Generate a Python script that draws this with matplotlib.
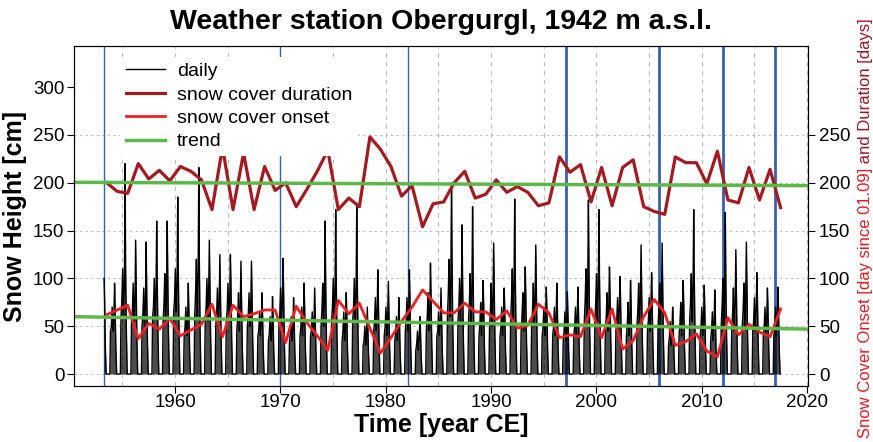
import numpy as np
import matplotlib.pyplot as plt
from matplotlib.lines import Line2D

plt.rcParams['font.family'] = ['Liberation Sans', 'DejaVu Sans']

# season years (spring of each winter)
years = np.arange(1953, 2018)

# snow cover duration [days]
duration = [200, 191, 189, 220, 204, 213, 202, 217, 212, 203,
            172, 237, 172, 231, 172, 217, 192, 200, 175, 193,
            212, 234, 172, 184, 175, 248, 235, 217, 186, 197,
            154, 178, 180, 200, 212, 184, 188, 203, 190, 196,
            190, 176, 179, 227, 211, 219, 180, 216, 176, 216,
            224, 175, 170, 167, 227, 221, 221, 199, 233, 182,
            179, 216, 182, 214, 174]

# snow cover onset [day since 01.09]
onset = [62, 67, 72, 37, 53, 47, 58, 40, 46, 52,
         73, 39, 72, 60, 63, 67, 67, 33, 71, 54,
         40, 25, 77, 63, 74, 48, 22, 38, 55, 70,
         88, 76, 64, 64, 74, 65, 65, 57, 66, 48,
         51, 73, 64, 38, 41, 39, 68, 38, 68, 26,
         35, 60, 78, 64, 30, 34, 42, 24, 18, 59,
         41, 52, 44, 39, 68]

# daily snow height, per winter: early level, mid-winter level, peak, late level [cm]
snow_early = [0, 45, 60, 55, 50, 60, 55, 65, 40, 60,
              55, 50, 55, 45, 50, 40, 35, 50, 35, 40,
              40, 50, 55, 35, 55, 30, 45, 40, 35, 45,
              25, 45, 40, 60, 55, 55, 40, 50, 40, 55,
              45, 50, 40, 40, 35, 40, 55, 55, 45, 45,
              40, 50, 45, 50, 30, 40, 55, 40, 35, 50,
              45, 50, 45, 40, 40]
snow_mid = [80, 70, 110, 95, 90, 100, 105, 110, 70, 120,
            100, 90, 95, 85, 85, 65, 60, 90, 60, 70,
            65, 95, 100, 65, 100, 50, 80, 70, 60, 80,
            45, 85, 65, 120, 100, 105, 75, 95, 70, 110,
            85, 95, 70, 70, 65, 70, 110, 105, 85, 80,
            75, 95, 80, 95, 55, 75, 105, 70, 65, 100,
            90, 95, 80, 70, 70]
snow_peak = [100, 95, 220, 140, 138, 160, 160, 185, 95, 216,
             140, 125, 125, 118, 118, 85, 81, 121, 80, 95,
             90, 160, 172, 85, 177, 70, 109, 97, 80, 109,
             60, 116, 90, 200, 156, 175, 98, 137, 90, 183,
             112, 135, 91, 95, 86, 91, 182, 172, 112, 102,
             98, 135, 106, 137, 70, 98, 172, 93, 88, 169,
             130, 138, 106, 90, 91]
snow_late = [60, 55, 90, 70, 70, 80, 80, 90, 55, 95,
             80, 70, 75, 65, 70, 50, 45, 70, 45, 55,
             50, 75, 80, 50, 80, 40, 60, 55, 45, 60,
             35, 65, 50, 95, 80, 85, 60, 75, 55, 90,
             70, 75, 55, 55, 50, 55, 90, 85, 70, 65,
             60, 75, 65, 75, 45, 60, 85, 55, 50, 80,
             70, 75, 65, 55, 55]

record_start = 1953.25

# trend lines (start / end value)
trend_x = [1950.4, 2020.1]
trend_duration = [200.5, 197.0]
trend_onset = [60.0, 47.0]

# station changes
change_years = [1953.26, 1970.0, 1982.1, 1997.1, 2006.0, 2012.0, 2017.0]
change_widths = [1.0, 1.0, 1.0, 2.0, 2.0, 2.0, 2.0]

# build daily trace from winter knots
knot_off = [-0.2, -0.14, -0.06, 0.02, 0.1, 0.18, 0.25, 0.3, 0.37, 0.45]
tx, ty = [], []
for y, e, md, pk, lt in zip(years, snow_early, snow_mid, snow_peak, snow_late):
    vals = [0, e, md * 0.7, md, e, lt, pk, md, lt * 0.5, 0]
    for o, v in zip(knot_off, vals):
        t = y + o
        if t >= record_start:
            tx.append(t)
            ty.append(v)
tx = np.array(tx)
ty = np.array(ty)

fig = plt.figure(figsize=(8.73, 4.42), dpi=100)
ax = fig.add_axes([0.0848, 0.1267, 0.8407, 0.7692])

xlim = (1950.4, 2020.1)
ylim = (-12.5, 343)

for gx in range(1955, 2021, 5):
    ax.axvline(gx, color='#bbbbbb', ls=(0, (4, 4)), lw=0.8, zorder=0)
for gy in range(0, 251, 50):
    ax.axhline(gy, color='#bbbbbb', ls=(0, (2, 3)), lw=0.8, zorder=0)

for cy, cw in zip(change_years, change_widths):
    ax.axvline(cy, color='#3a5fb0', lw=cw, zorder=1)

ax.fill_between(tx, 0, ty, color='black', alpha=0.7, lw=0, zorder=2)
ax.plot(tx, ty, color='black', lw=1.0, zorder=2)
ax.plot(years + 0.5, duration, color='#a31a20', lw=2.3, zorder=3)
ax.plot(years + 0.5, onset, color='#ee2024', lw=2.0, zorder=3)
ax.plot(trend_x, trend_duration, color='#5cb848', lw=2.5, zorder=4)
ax.plot(trend_x, trend_onset, color='#5cb848', lw=2.5, zorder=4)

ax.set_xlim(xlim)
ax.set_ylim(ylim)
ax.set_xticks(range(1960, 2021, 10))
ax.set_yticks(range(0, 301, 50))
ax.tick_params(labelsize=13.5, length=5, direction='out', pad=2)
ax.tick_params(axis='x', pad=1)
ax.set_xlabel('Time [year CE]', fontsize=18, fontweight='bold', labelpad=1)
ax.set_ylabel('Snow Height [cm]', fontsize=18, fontweight='bold', labelpad=4)
ax.set_title('Weather station Obergurgl, 1942 m a.s.l.', fontsize=20.5,
             fontweight='bold', pad=12)

ax2 = ax.twinx()
ax2.set_ylim(ylim)
ax2.set_yticks(range(0, 251, 50))
ax2.tick_params(labelsize=13.5, length=5, direction='out', pad=3)

handles = [Line2D([], [], color='black', lw=1),
           Line2D([], [], color='#a31a20', lw=2.3),
           Line2D([], [], color='#ee2024', lw=2.0),
           Line2D([], [], color='#5cb848', lw=2.5)]
labels = ['daily', 'snow cover duration', 'snow cover onset', 'trend']
leg = ax2.legend(handles, labels, loc='upper left', bbox_to_anchor=(0.058, 0.98),
                 fontsize=14, frameon=True, framealpha=1, edgecolor='none',
                 handlelength=2.0, handletextpad=0.6, labelspacing=0.3,
                 borderaxespad=0.2, borderpad=0.3)
leg.get_frame().set_linewidth(0)

# two-coloured right axis label
t1 = fig.text(0.991, 0.008, 'Snow Cover Onset [day since 01.09]', rotation=90,
              color='#e8191f', fontsize=12, ha='center', va='bottom')
fig.canvas.draw()
bb = t1.get_window_extent().transformed(fig.transFigure.inverted())
fig.text(0.991, bb.y1, ' and Duration [days]', rotation=90,
         color='#a0141e', fontsize=12, ha='center', va='bottom')

fig.savefig('out.png', dpi=100)
